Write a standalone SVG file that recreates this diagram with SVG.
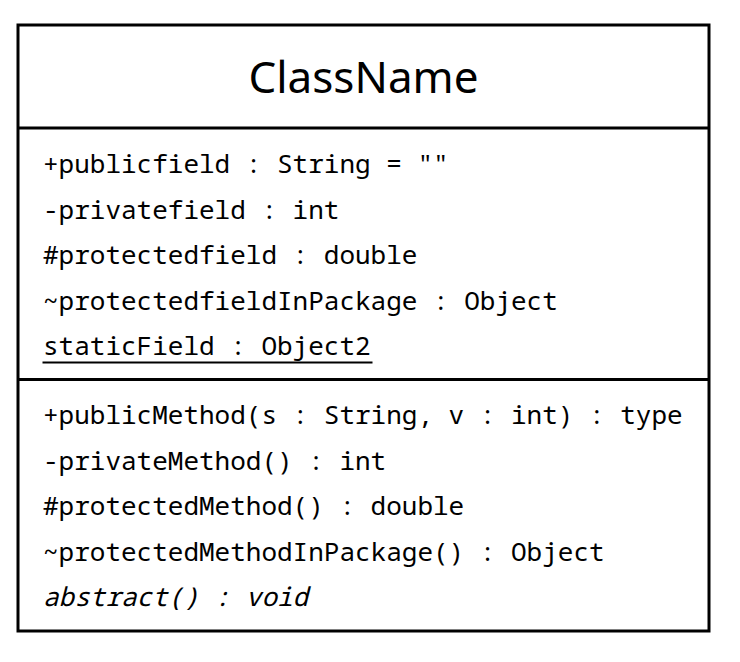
<svg xmlns="http://www.w3.org/2000/svg" width="740" height="662" viewBox="0 0 740 662">
<style>
.box{fill:#fff;stroke:#000;stroke-width:3}
.div{stroke:#000;stroke-width:3}
.title{font-family:"Noto Sans","Open Sans","DejaVu Sans",sans-serif;font-size:44px;fill:#000}
.m{font-family:"Noto Sans Mono","DejaVu Sans Mono","Liberation Mono",monospace;font-size:26px;fill:#000}
.it{font-style:italic}
</style>
<rect width="740" height="662" fill="#fff"/>
<g id="ClassName">
<rect class="box" x="18" y="25" width="691" height="606"/>
<line class="div" x1="18" y1="128" x2="709" y2="128"/>
<line class="div" x1="18" y1="379.5" x2="709" y2="379.5"/>
<text class="title" x="363.5" y="93" text-anchor="middle">ClassName</text>
<text class="m" x="43" y="173">+publicfield : String = ""</text>
<text class="m" x="43" y="218.5">-privatefield : int</text>
<text class="m" x="43" y="264">#protectedfield : double</text>
<text class="m" x="43" y="309.5">~protectedfieldInPackage : Object</text>
<text class="m" x="43" y="355">staticField : Object2</text>
<line x1="42.5" y1="362.5" x2="372.5" y2="362.5" stroke="#000" stroke-width="2"/>
<text class="m" x="43" y="424">+publicMethod(s : String, v : int) : type</text>
<text class="m" x="43" y="469.5">-privateMethod() : int</text>
<text class="m" x="43" y="515">#protectedMethod() : double</text>
<text class="m" x="43" y="560.5">~protectedMethodInPackage() : Object</text>
<text class="m it" x="43" y="606">abstract() : void</text>
</g>
<g id="connectors"></g>
</svg>
